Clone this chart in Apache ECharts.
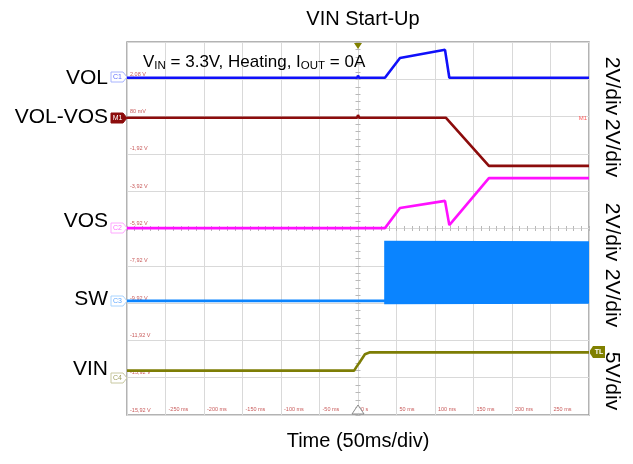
<!DOCTYPE html>
<html><head><meta charset="utf-8">
<script src="https://cdn.jsdelivr.net/npm/echarts@6/dist/echarts.min.js"></script>
<style>html,body{margin:0;padding:0;background:#fff}#c{width:633px;height:464px}</style>
</head><body><div id="c"></div>
<script>
const FONT = "Arial, 'Liberation Sans', sans-serif";

// Time axis: -300..300 ms, 50 ms/div
const xTickLabels = ['', '-250 ms', '-200 ms', '-150 ms', '-100 ms', '-50 ms', '0 s', '50 ms', '100 ms', '150 ms', '200 ms', '250 ms', ''];
// Vertical axis in screen divisions (-5..5), scope graticule labels
const yTickLabels = ['-15,92 V', '-13,92 V', '-11,92 V', '-9,92 V', '-7,92 V', '-5,92 V', '-3,92 V', '-1,92 V', '80 mV', '2,08 V', ''];

// Channel traces: time (ms) and level (divisions from screen centre)
const volT = [-300, -1, 0, 1.5, 35, 54.5, 113, 118.6, 300];
const volV = [4.04, 4.04, 4.1, 4.04, 4.04, 4.57, 4.79, 4.04, 4.04];

const diffT = [-300, -1, 0, 1.5, 114, 170, 300];
const diffV = [2.97, 2.97, 3.04, 2.97, 2.97, 1.68, 1.68];

const vosT = [-300, 35, 54.5, 113, 118.6, 170, 300];
const vosV = [0.01, 0.01, 0.55, 0.74, 0.09, 1.35, 1.35];

const swT = [-300, 35];
const swV = [-1.94, -1.94];
// switching envelope after start-up: time, lower and upper edge
const swBandT = [35, 300];
const swBandLow = [-2.01, -2.0];
const swBandHigh = [-0.35, -0.36];

const vinT = [-300, -5, -2, 2.6, 9, 15.6, 300];
const vinV = [-3.81, -3.81, -3.71, -3.57, -3.37, -3.32, -3.32];

const C = { vol: '#1010fa', diff: '#8c0c0c', vos: '#ff10ff', sw: '#0a84ff', vin: '#7d7d05' };

const pts = (t, v) => t.map((x, i) => [x, v[i]]);

function lineSeries(name, data, color, extra) {
  return Object.assign({
    name, type: 'line', data, showSymbol: false, symbol: 'none',
    lineStyle: { color, width: 2.6 }, itemStyle: { color }, z: 3, animation: false
  }, extra || {});
}

const tickAxisX = (inside) => ({
  type: 'value', min: -300, max: 300, interval: 50, position: 'bottom',
  axisLine: { show: false, onZero: true },
  axisTick: { show: true, inside, length: 2.5, lineStyle: { color: '#b8b8b8' } },
  minorTick: { show: true, splitNumber: 5, length: 2.5, lineStyle: { color: '#b8b8b8' } },
  axisLabel: { show: false }, splitLine: { show: false }
});
const tickAxisY = (inside) => ({
  type: 'value', min: -5, max: 5, interval: 1, position: 'left',
  axisLine: { show: false, onZero: true, onZeroAxisIndex: 0 },
  axisTick: { show: true, inside, length: 2.5, lineStyle: { color: '#b8b8b8' } },
  minorTick: { show: true, splitNumber: 5, length: 2.5, lineStyle: { color: '#b8b8b8' } },
  axisLabel: { show: false }, splitLine: { show: false }
});

const labelFont = { fontFamily: FONT, fontSize: 21, fill: '#000' };
function leftLabel(text, y) {
  return { type: 'text', right: 633 - 108, top: y - 12, style: Object.assign({ text, textAlign: 'right' }, labelFont), z: 10 };
}
function rightLabel(text, y) {
  return { type: 'text', x: 612, y, rotation: -Math.PI / 2,
    style: Object.assign({ text, textAlign: 'center', textVerticalAlign: 'middle' }, labelFont), z: 10 };
}
function chMarker(text, y, stroke, fill, textColor) {
  return { type: 'group', x: 111, y: y - 5, z: 12, children: [
    { type: 'polygon', shape: { points: [[0, 0], [12, 0], [16, 5], [12, 10], [0, 10]] },
      style: { fill, stroke, lineWidth: 1 } },
    { type: 'text', x: 6.5, y: 5, style: { text, fontSize: 7, fontFamily: FONT, fill: textColor, textAlign: 'center', textVerticalAlign: 'middle' } }
  ] };
}

const bandData = swBandT.slice(0, -1).map((t, i) => [t, swBandT[i + 1], swBandLow[i], swBandHigh[i], swBandLow[i + 1], swBandHigh[i + 1]]);

const option = {
  animation: false,
  backgroundColor: '#fff',
  title: {
    text: 'VIN Start-Up', left: 358, top: 4, textAlign: 'center',
    textStyle: { fontFamily: FONT, fontSize: 20, fontWeight: 'normal', color: '#000' }
  },
  grid: { left: 127, right: 44, top: 42, bottom: 49, show: true, borderColor: '#9a9a9a', borderWidth: 1.5, containLabel: false },
  xAxis: [
    {
      type: 'value', min: -300, max: 300, interval: 50, position: 'bottom',
      axisLine: { show: false, onZero: false },
      axisTick: { show: false },
      axisLabel: {
        show: true, inside: true, interval: 0, showMinLabel: true, showMaxLabel: true,
        formatter: (v) => xTickLabels[Math.round((v + 300) / 50)] || '',
        color: '#c85a5a', fontSize: 5.5, fontFamily: FONT, align: 'left', padding: [0, 0, 0, 3], margin: 3, verticalAlign: 'bottom'
      },
      splitLine: { show: true, lineStyle: { color: '#d9d9d9', width: 1 } }
    },
    tickAxisX(true), tickAxisX(false)
  ],
  yAxis: [
    {
      type: 'value', min: -5, max: 5, interval: 1, position: 'left',
      axisLine: { show: false, onZero: false },
      axisTick: { show: false },
      axisLabel: {
        show: true, inside: true, interval: 0, showMinLabel: true, showMaxLabel: true,
        formatter: (v) => yTickLabels[Math.round(v + 5)] || '',
        color: '#c85a5a', fontSize: 5.5, fontFamily: FONT, align: 'left', margin: 3, verticalAlign: 'bottom', padding: [0, 0, 2, 0]
      },
      splitLine: { show: true, lineStyle: { color: '#d9d9d9', width: 1 } }
    },
    tickAxisY(true), tickAxisY(false)
  ],
  series: [
    lineSeries('VIN', pts(vinT, vinV), C.vin),
    lineSeries('SW', pts(swT, swV), C.sw),
    {
      name: 'SW band', type: 'custom', z: 3, animation: false, clip: true,
      data: bandData,
      renderItem: function (params, api) {
        const a = api.coord([api.value(0), api.value(3)]);
        const b = api.coord([api.value(1), api.value(5)]);
        const c = api.coord([api.value(1), api.value(4)]);
        const d = api.coord([api.value(0), api.value(2)]);
        return { type: 'polygon', shape: { points: [a, b, c, d] }, style: { fill: C.sw, stroke: C.sw, lineWidth: 1.5 } };
      },
      encode: { x: [0, 1], y: [2, 3, 4, 5] }
    },
    lineSeries('VOS', pts(vosT, vosV), C.vos),
    lineSeries('VOL-VOS', pts(diffT, diffV), C.diff),
    lineSeries('VOL', pts(volT, volV), C.vol)
  ],
  graphic: [
    leftLabel('VOL', 80), leftLabel('VOL-VOS', 119), leftLabel('VOS', 223), leftLabel('SW', 301), leftLabel('VIN', 371),
    rightLabel('2V/div', 86), rightLabel('2V/div', 148), rightLabel('2V/div', 232), rightLabel('2V/div', 298), rightLabel('5V/div', 381),
    { type: 'text', x: 143, y: 62, z: 10, style: {
      text: '{a|V}{s|IN}{a| = 3.3V, Heating, I}{s|OUT}{a| = 0A}', textVerticalAlign: 'middle',
      rich: { a: { fontFamily: FONT, fontSize: 17, fill: '#000', color: '#000' },
              s: { fontFamily: FONT, fontSize: 11.5, fill: '#000', color: '#000', padding: [7, 0, 0, 0] } } } },
    chMarker('C1', 77, '#a8b4ff', '#fff', '#6070ff'),
    chMarker('M1', 118, '#8c0c0c', '#8c0c0c', '#fff'),
    chMarker('C2', 228, '#ffa8ff', '#fff', '#ff70ff'),
    chMarker('C3', 301, '#a8d4ff', '#fff', '#60a8ff'),
    chMarker('C4', 378, '#c8c8a0', '#fff', '#a0a060'),
    { type: 'group', x: 589, y: 346, z: 12, children: [
      { type: 'polygon', shape: { points: [[4, 0], [16, 0], [16, 12], [4, 12], [0, 6]] }, style: { fill: '#808000' } },
      { type: 'text', x: 10, y: 6, style: { text: 'TL', fontSize: 7, fontFamily: FONT, fill: '#fff', textAlign: 'center', textVerticalAlign: 'middle', fontWeight: 'bold' } }
    ] },
    { type: 'text', x: 587, y: 118, z: 10, style: { text: 'M1', fontSize: 6, fontFamily: FONT, fill: '#ff5a5a', textAlign: 'right', textVerticalAlign: 'middle' } },
    { type: 'polygon', x: 358, y: 43, z: 12, shape: { points: [[-4, 0], [4, 0], [0, 6]] }, style: { fill: '#808000' } },
    { type: 'polygon', x: 358, y: 405, z: 12, shape: { points: [[-6, 9], [6, 9], [0, 0]] }, style: { fill: 'rgba(255,255,255,0.85)', stroke: '#8a8a8a', lineWidth: 1 } },
    { type: 'text', x: 358, y: 441, z: 10, style: { text: 'Time (50ms/div)', fontFamily: FONT, fontSize: 20, fill: '#000', textAlign: 'center', textVerticalAlign: 'middle' } }
  ]
};

const chart = echarts.init(document.getElementById('c'), null, { renderer: 'canvas' });
chart.setOption(option);
</script>
</body></html>
